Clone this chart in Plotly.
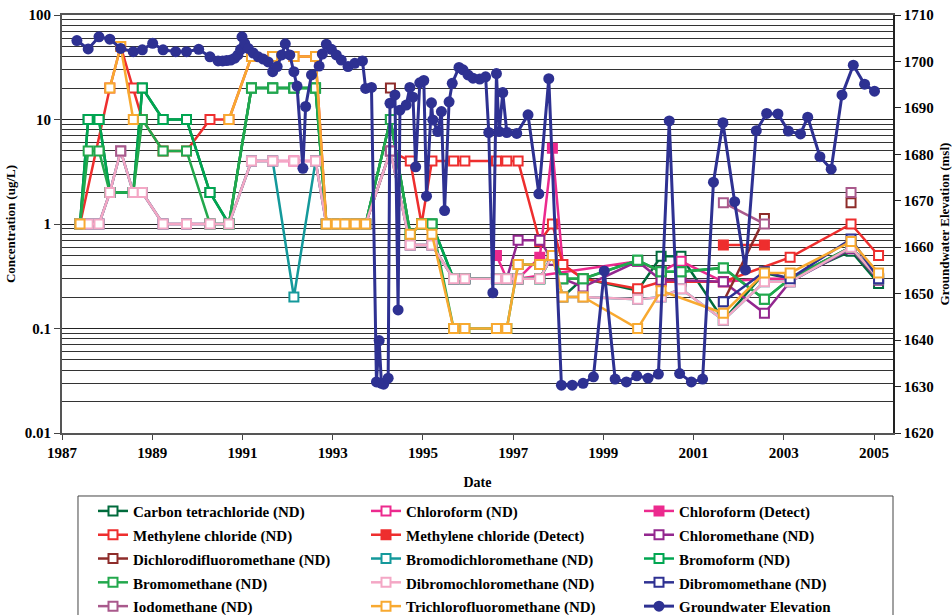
import plotly.graph_objects as go

# Sampling dates (decimal years) shared by the VOC concentration series
sample_dates = [
    1987.40, 1987.58, 1987.82, 1988.06, 1988.30, 1988.58, 1988.78, 1989.24, 1989.76, 1990.28,
    1990.70, 1991.20, 1991.67, 1992.14, 1992.62, 1992.86, 1993.08, 1993.27, 1993.50, 1993.73,
    1994.28, 1994.72, 1994.97, 1995.20, 1995.68, 1995.93, 1996.63, 1996.86, 1997.11, 1997.59,
    1997.87, 1998.10, 1998.55, 1999.76, 2000.28, 2000.72, 2001.66, 2002.57, 2003.14, 2004.49,
    2005.10,
]
N = None           # not analysed on that date (line continues past it)
B = float("nan")   # blank row: the line is broken here

# Concentrations in ug/L
carbon_tetrachloride_nd = [
    1, 10, 10, 2, N, 2, 20, 10, 10, 2,
    1, 20, 20, 20, 20, 1, 1, 1, 1, 1,
    10, 0.8, 1.0, 1.0, 0.3, 0.3, 0.3, 0.3, 0.3, 0.3,
    0.5, 0.2, 0.3, 0.23, 0.49, 0.49, 0.12, 0.34, 0.3, 0.55,
    0.27,
]
chloroform_nd = [
    1, 1, 1, 2, 5, 2, 2, 1, 1, 1,
    1, 4, 4, 4, 4, 1, 1, 1, 1, 1,
    5, 0.63, N, 0.63, 0.3, 0.3, N, N, 0.3, N,
    N, N, N, 0.44, 0.35, 0.44, 0.28, 0.3, 0.3, 0.6,
    0.31,
]
chloroform_detect = [
    N, N, N, N, N, N, N, N, N, N,
    N, N, N, N, N, N, N, N, N, N,
    N, N, N, N, N, N, 0.5, 0.3, 0.3, 0.48,
    5.3, 0.41, 0.3, N, N, N, N, N, N, N,
    N,
]
methylene_chloride_nd = [
    1, N, N, 20, 50, 20, 10, 5, 5, 10,
    10, 40, 40, 40, 40, 1, 1, 1, 1, 1,
    5, 4, 1.0, 4, 4, 4, 4, 4, 4, 0.68,
    1.0, 0.41, 0.3, 0.24, 0.28, 0.28, 0.28, N, 0.48, 1.0,
    0.5,
]
methylene_chloride_detect = [
    N, N, N, N, N, N, N, N, N, N,
    N, N, N, N, N, N, N, N, N, N,
    N, N, N, N, N, N, N, N, N, N,
    N, N, N, N, N, N, 0.63, 0.63, N, N,
    N,
]
chloromethane_nd = [
    N, N, N, N, N, N, N, N, N, N,
    N, N, N, N, N, N, N, N, N, N,
    N, N, N, N, 0.3, 0.3, 0.3, 0.3, 0.7, 0.7,
    0.45, 0.3, 0.25, 0.44, 0.29, 0.29, 0.28, 0.14, 0.28, 0.58,
    0.29,
]
dichlorodifluoromethane_nd = [
    N, N, N, N, N, N, N, N, N, N,
    N, N, N, N, N, N, N, N, N, N,
    20, B, N, N, N, N, N, N, N, N,
    N, N, N, N, N, N, 0.18, 1.13, B, 1.6,
    N,
]
bromodichloromethane_nd = [
    1, 1, 1, 2, 5, 2, 2, 1, 1, 1,
    1, 4, 4, 0.2, 4, 1, 1, 1, 1, 1,
    5, 0.63, N, 0.63, 0.3, 0.3, 0.3, 0.3, 0.3, 0.3,
    0.5, 0.2, 0.2, 0.19, 0.2, 0.24, 0.12, 0.28, 0.28, 0.6,
    0.3,
]
bromoform_nd = [
    1, 10, 10, 2, N, 2, 20, 10, 10, 2,
    1, 20, 20, 20, 20, 1, 1, 1, 1, 1,
    10, 0.8, 1.0, 1.0, 0.3, 0.3, 0.3, 0.3, 0.3, 0.3,
    0.5, 0.3, 0.3, 0.45, 0.35, 0.35, 0.38, 0.19, 0.3, 0.6,
    0.3,
]
bromomethane_nd = [
    1, 5, 5, 2, N, 2, 10, 5, 5, 1,
    1, 20, 20, 20, 20, 1, 1, 1, 1, 1,
    10, 0.8, 1.0, 1.0, 0.1, 0.1, 0.1, 0.1, 0.41, 0.41,
    0.5, 0.3, 0.3, 0.45, 0.35, 0.35, 0.38, 0.19, 0.3, 0.6,
    0.3,
]
dibromochloromethane_nd = [
    1, 1, 1, 2, 5, 2, 2, 1, 1, 1,
    1, 4, 4, 4, 4, 1, 1, 1, 1, 1,
    5, 0.63, N, 0.63, 0.3, 0.3, 0.3, 0.3, 0.3, 0.3,
    0.5, 0.2, 0.2, 0.19, 0.2, 0.24, 0.12, 0.28, 0.28, 0.6,
    0.3,
]
dibromomethane_nd = [
    N, N, N, N, N, N, N, N, N, N,
    N, N, N, N, N, N, N, N, N, N,
    N, N, N, N, N, N, N, N, N, N,
    N, N, N, N, N, N, 0.18, 0.35, 0.3, 0.72,
    0.3,
]
iodomethane_nd = [
    N, N, N, N, 5, B, N, N, N, N,
    N, N, N, N, N, N, N, N, N, N,
    5, B, N, N, N, N, N, N, N, N,
    N, N, N, N, N, N, 1.6, 1.0, B, 2.0,
    N,
]
trichlorofluoromethane_nd = [
    1, B, N, 20, 50, 10, B, N, N, N,
    10, 40, 40, 40, 40, 1, 1, 1, 1, 1,
    B, 0.8, 1.0, 0.8, 0.1, 0.1, 0.1, 0.1, 0.41, 0.41,
    0.5, 0.2, 0.2, 0.1, 0.23, N, 0.14, 0.34, 0.34, 0.68,
    0.34,
]

# Groundwater elevation (ft msl)
gw_dates = [
    1987.33, 1987.58, 1987.82, 1988.06, 1988.30, 1988.58, 1988.78, 1989.01, 1989.24, 1989.52,
    1989.76, 1990.03, 1990.28, 1990.46, 1990.56, 1990.65, 1990.74, 1990.83, 1990.90, 1990.96,
    1990.99, 1991.05, 1991.13, 1991.24, 1991.35, 1991.46, 1991.57, 1991.67, 1991.77, 1991.87,
    1991.95, 1992.05, 1992.14, 1992.21, 1992.34, 1992.40, 1992.53, 1992.70, 1992.77, 1992.86,
    1992.97, 1993.08, 1993.19, 1993.34, 1993.49, 1993.66, 1993.73, 1993.86, 1993.97, 1994.03,
    1994.08, 1994.13, 1994.23, 1994.27, 1994.38, 1994.45, 1994.49, 1994.63, 1994.71, 1994.78,
    1994.84, 1994.93, 1995.02, 1995.08, 1995.19, 1995.22, 1995.33, 1995.41, 1995.48, 1995.58,
    1995.65, 1995.80, 1995.89, 1996.00, 1996.11, 1996.26, 1996.39, 1996.46, 1996.55, 1996.63,
    1996.69, 1996.77, 1996.86, 1997.08, 1997.33, 1997.57, 1997.79, 1998.07, 1998.31, 1998.55,
    1998.78, 1999.02, 1999.26, 1999.51, 1999.74, 1999.99, 2000.22, 2000.46, 2000.69, 2000.95,
    2001.20, 2001.44, 2001.65, 2001.91, 2002.15, 2002.39, 2002.62, 2002.87, 2003.10, 2003.37,
    2003.53, 2003.80, 2004.05, 2004.29, 2004.54, 2004.79, 2005.01,
]
gw_elevation = [
    1704.5, 1702.7, 1705.3, 1704.8, 1702.8, 1702.1, 1702.5, 1703.9, 1702.5, 1702.1,
    1702.1, 1702.6, 1701.0, 1700.1, 1700.1, 1700.2, 1700.3, 1700.7, 1701.4, 1702.6,
    1705.3, 1703.9, 1702.8, 1701.8, 1701.0, 1700.5, 1699.9, 1697.8, 1698.9, 1701.4,
    1703.8, 1701.4, 1697.8, 1694.7, 1677.0, 1690.3, 1697.1, 1699.0, 1701.6, 1703.7,
    1702.6, 1701.4, 1700.3, 1698.9, 1699.6, 1700.1, 1694.2, 1694.4, 1631.0, 1639.9,
    1630.7, 1630.5, 1631.8, 1691.0, 1692.8, 1646.5, 1689.5, 1690.6, 1694.4, 1692.3,
    1677.3, 1695.4, 1695.9, 1671.0, 1691.1, 1687.4, 1684.9, 1689.2, 1667.9, 1691.3,
    1695.3, 1698.7, 1698.2, 1697.1, 1696.4, 1696.2, 1696.7, 1684.7, 1650.2, 1697.4,
    1684.9, 1693.3, 1684.7, 1684.5, 1688.5, 1671.5, 1696.3, 1630.3, 1630.3, 1630.7,
    1632.1, 1654.9, 1631.6, 1631.0, 1632.3, 1631.8, 1632.7, 1687.2, 1632.8, 1631.0,
    1631.6, 1674.0, 1686.8, 1669.8, 1655.1, 1685.1, 1688.8, 1688.7, 1685.0, 1684.4,
    1688.0, 1679.5, 1676.8, 1692.8, 1699.2, 1695.1, 1693.6,
]

# name, values, colour, filled marker
series = [
    ("Carbon tetrachloride (ND)", carbon_tetrachloride_nd, "#006B3C", False),
    ("Chloroform (ND)", chloroform_nd, "#EC2A8E", False),
    ("Chloroform (Detect)", chloroform_detect, "#EC2A8E", True),
    ("Methylene chloride (ND)", methylene_chloride_nd, "#EE2E2E", False),
    ("Methylene chloride (Detect)", methylene_chloride_detect, "#EE2E2E", True),
    ("Chloromethane (ND)", chloromethane_nd, "#93278F", False),
    ("Dichlorodifluoromethane (ND)", dichlorodifluoromethane_nd, "#8E2C2A", False),
    ("Bromodichloromethane (ND)", bromodichloromethane_nd, "#14999B", False),
    ("Bromoform (ND)", bromoform_nd, "#00A651", False),
    ("Bromomethane (ND)", bromomethane_nd, "#22A84C", False),
    ("Dibromochloromethane (ND)", dibromochloromethane_nd, "#F4A7C5", False),
    ("Dibromomethane (ND)", dibromomethane_nd, "#2E3192", False),
    ("Iodomethane (ND)", iodomethane_nd, "#A9598C", False),
    ("Trichlorofluoromethane (ND)", trichlorofluoromethane_nd, "#F8A930", False),
]
gw_color = "#2E3192"

FONT = "Liberation Serif, Times New Roman, DejaVu Serif, serif"


def legend_label(text):
    # legend rows are spaced by the legend font; the label itself is a bit smaller
    return '<span style="font-size:15px">' + text + "</span>"


fig = go.Figure()
for name, values, color, filled in series:
    pts = [(d, v) for d, v in zip(sample_dates, values) if v is not None]
    fig.add_trace(go.Scatter(
        x=[p[0] for p in pts], y=[p[1] for p in pts],
        name=legend_label(name), mode="lines+markers", connectgaps=False,
        line=dict(color=color, width=2.5),
        marker=dict(symbol="square", size=9,
                    color=color if filled else "white",
                    line=dict(color=color, width=2)),
    ))

fig.add_trace(go.Scatter(
    x=gw_dates, y=gw_elevation, name=legend_label("Groundwater Elevation"), yaxis="y2",
    mode="lines+markers",
    line=dict(color=gw_color, width=3),
    marker=dict(symbol="circle", size=11, color=gw_color),
))

# log minor gridlines at 2..9 of every decade
minor_vals = [k * 10.0 ** e for e in range(-2, 2) for k in range(2, 10)]

fig.update_layout(
    width=952, height=615,
    margin=dict(l=62, r=59, t=15, b=182, autoexpand=False),
    paper_bgcolor="white", plot_bgcolor="white",
    font=dict(family=FONT, size=15, color="black", weight="bold"),
    showlegend=True,
    legend=dict(
        orientation="h", x=0.0373, y=-0.146, xanchor="left", yanchor="top",
        entrywidth=228, entrywidthmode="pixels", traceorder="normal",
        borderwidth=0, bgcolor="rgba(0,0,0,0)",
        font=dict(family=FONT, size=16, color="black", weight="bold"),
    ),
    # frame around the legend block
    shapes=[dict(type="rect", xref="paper", yref="paper",
                 x0=0.01925, x1=1.0, y0=-0.1507, y1=-0.6,
                 line=dict(color="#444", width=1), fillcolor="rgba(0,0,0,0)",
                 layer="below")],
    xaxis=dict(
        range=[1987, 2005.42], tickvals=list(range(1987, 2006, 2)),
        ticks="outside", ticklen=5, tickcolor="#444",
        showline=True, linecolor="#555", linewidth=2, mirror=True,
        showgrid=False, zeroline=False,
        tickfont=dict(family=FONT, size=15, weight="bold"),
        title=dict(text="Date", standoff=17,
                   font=dict(family=FONT, size=14, weight="bold")),
    ),
    yaxis=dict(
        type="log", range=[-2, 2],
        tickvals=[0.01, 0.1, 1, 10, 100], ticktext=["0.01", "0.1", "1", "10", "100"],
        ticks="outside", ticklen=6, tickcolor="#444",
        showline=True, linecolor="#555", linewidth=2,
        showgrid=True, gridcolor="#222", gridwidth=1, zeroline=False,
        minor=dict(tickvals=minor_vals, showgrid=True, gridcolor="#333",
                   gridwidth=1, ticks=""),
        tickfont=dict(family=FONT, size=15, weight="bold"),
        title=dict(text="Concentration (ug/L)", standoff=6,
                   font=dict(family=FONT, size=13, weight="bold")),
    ),
    yaxis2=dict(
        overlaying="y", side="right", range=[1620, 1710], dtick=10,
        ticks="outside", ticklen=6, tickcolor="#222",
        showline=True, linecolor="#222", linewidth=1.5,
        showgrid=False, zeroline=False,
        tickfont=dict(family=FONT, size=15, weight="bold"),
        title=dict(text="Groundwater Elevation (msl)", standoff=8,
                   font=dict(family=FONT, size=13, weight="bold")),
    ),
)

fig.write_html("out.html")
